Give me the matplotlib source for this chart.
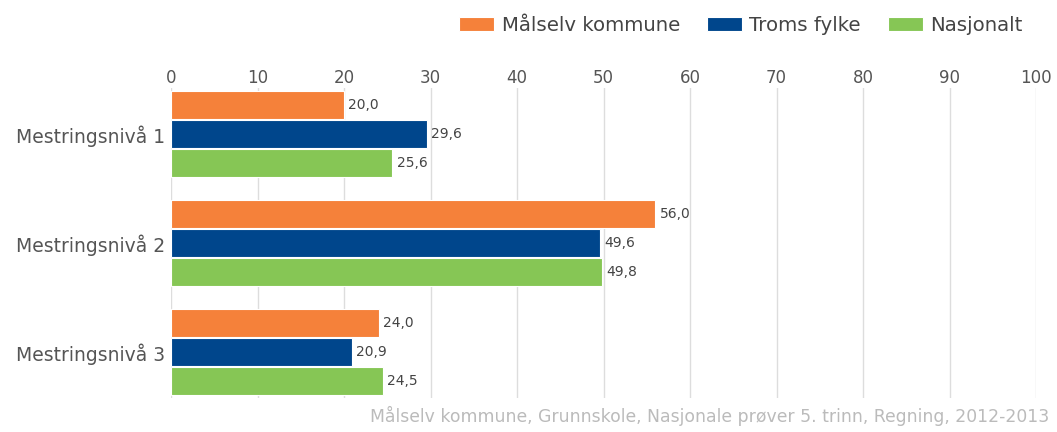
import numpy as np
import matplotlib.pyplot as plt

kategorier = ['Mestringsnivå 1', 'Mestringsnivå 2', 'Mestringsnivå 3']
serier = ['Målselv kommune', 'Troms fylke', 'Nasjonalt']
malselv = [20.0, 56.0, 24.0]
troms = [29.6, 49.6, 20.9]
nasjonalt = [25.6, 49.8, 24.5]
farger = ['#F5813A', '#00468C', '#86C655']
kilde = 'Målselv kommune, Grunnskole, Nasjonale prøver 5. trinn, Regning, 2012-2013'

fig = plt.figure(figsize=(10.57, 4.32), dpi=100)
ax = fig.add_axes([0.1618, 0.0787, 0.8184, 0.7176])

y = np.arange(len(kategorier))
hoyde = 0.255
forskyvning = [-0.268, 0.0, 0.268]

for verdier, navn, farge, dy in zip([malselv, troms, nasjonalt], serier, farger, forskyvning):
    stolper = ax.barh(y + dy, verdier, height=hoyde, color=farge, label=navn,
                      edgecolor='white', linewidth=0.8, zorder=3)
    for s, v in zip(stolper, verdier):
        ax.text(v + 0.5, s.get_y() + s.get_height() / 2, f'{v:.1f}'.replace('.', ','),
                va='center', ha='left', fontsize=10, color='#444444')

ax.set_xlim(0, 100)
ax.set_ylim(2.42, -0.42)
ax.set_xticks(range(0, 101, 10))
ax.set_yticks(y)
ax.set_yticklabels(kategorier)
ax.xaxis.tick_top()
ax.tick_params(axis='x', length=0, pad=1, labelsize=12, labelcolor='#555555')
ax.tick_params(axis='y', length=0, pad=4, labelsize=13.5, labelcolor='#555555')
ax.grid(axis='x', color='#DDDDDD', linewidth=1, zorder=0)
for side in ax.spines.values():
    side.set_visible(False)

ax.legend(loc='center right', bbox_to_anchor=(0.967, 0.942), bbox_transform=fig.transFigure,
          ncol=3, frameon=False, fontsize=14.2, handlelength=1.78, handleheight=0.72,
          columnspacing=1.37, handletextpad=0.36, borderpad=0, borderaxespad=0,
          labelcolor='#444444')

fig.text(0.993, 0.015, kilde, ha='right', va='bottom', fontsize=12.4, color='#BBBBBB')

plt.savefig('out.png', dpi=100)
